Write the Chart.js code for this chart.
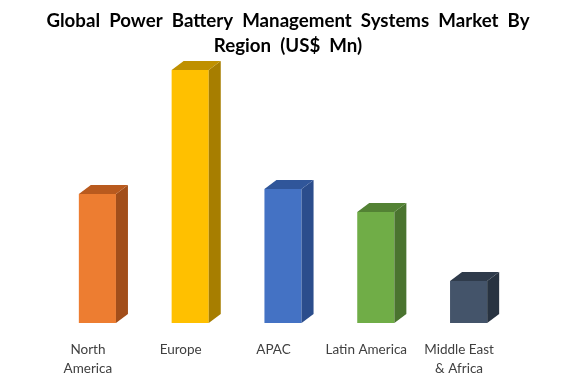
<!DOCTYPE html>
<html>
<head>
<meta charset="utf-8">
<script src="https://cdn.jsdelivr.net/npm/chart.js@4"></script>
<style>
    html, body { margin: 0; padding: 0; background: #ffffff; }
    #wrap { width: 576px; height: 384px; }
</style>
</head>
<body>
<div id="wrap"><canvas id="batteryChart"></canvas></div>
<script>
var regions = [['North', 'America'], 'Europe', 'APAC', 'Latin America', ['Middle East', '& Africa']];
var marketValues = [129, 253, 134, 111, 42];

var frontColors = ['#ED7D31', '#FFC000', '#4472C4', '#70AD47', '#44546A'];
var topColors = ['#B95A1E', '#BF9000', '#30569A', '#538234', '#2F3B4B'];
var sideColors = ['#A24E1A', '#A77E00', '#2B4D8C', '#4A742F', '#283341'];

// draws the side and top faces so the bars look 3D
var threeD = {
    id: 'threeD',
    afterDatasetsDraw: function(chart) {
        var ctx = chart.ctx;
        var meta = chart.getDatasetMeta(0);
        var dx = 12;
        var dy = 9;
        ctx.save();
        for (var i = 0; i < meta.data.length; i++) {
            var bar = meta.data[i];
            var left = bar.x - bar.width / 2;
            var right = bar.x + bar.width / 2;

            ctx.fillStyle = sideColors[i];
            ctx.beginPath();
            ctx.moveTo(right, bar.y);
            ctx.lineTo(right + dx, bar.y - dy);
            ctx.lineTo(right + dx, bar.base - dy);
            ctx.lineTo(right, bar.base);
            ctx.closePath();
            ctx.fill();

            ctx.fillStyle = topColors[i];
            ctx.beginPath();
            ctx.moveTo(left, bar.y);
            ctx.lineTo(left + dx, bar.y - dy);
            ctx.lineTo(right + dx, bar.y - dy);
            ctx.lineTo(right, bar.y);
            ctx.closePath();
            ctx.fill();
        }
        ctx.restore();
    }
};

// hidden side axes, only used to hold the plot area in place
function hiddenAxis(position, width) {
    return {
        position: position,
        display: true,
        min: 0,
        max: 263,
        grid: { display: false, drawTicks: false },
        border: { display: false },
        ticks: { display: false },
        afterFit: function(axis) {
            axis.width = width;
        }
    };
}

var ctx = document.getElementById('batteryChart').getContext('2d');
var batteryChart = new Chart(ctx, {
    type: 'bar',
    data: {
        labels: regions,
        datasets: [{
            label: 'US$ Mn',
            data: marketValues,
            backgroundColor: frontColors,
            borderWidth: 0,
            barPercentage: 0.4,
            categoryPercentage: 1
        }]
    },
    options: {
        responsive: true,
        maintainAspectRatio: false,
        animation: false,
        layout: {
            padding: { left: 0, right: 0, top: 0, bottom: 7 }
        },
        scales: {
            x: {
                grid: { display: false, drawTicks: false },
                border: { display: false },
                afterFit: function(axis) {
                    axis.height = 54;
                },
                ticks: {
                    color: '#404040',
                    padding: 18,
                    labelOffset: -9.5,
                    maxRotation: 0,
                    autoSkip: false,
                    font: { family: 'Lato', size: 13.5, lineHeight: 1.35 }
                }
            },
            y: hiddenAxis('left', 51),
            yRight: hiddenAxis('right', 61)
        },
        plugins: {
            legend: { display: false },
            tooltip: { enabled: false },
            title: {
                display: true,
                text: ['Global  Power  Battery  Management  Systems  Market  By', 'Region  (US$  Mn)'],
                color: '#000000',
                font: { family: 'Lato', size: 18.7, weight: 'bold', lineHeight: 1.34 },
                padding: { top: 8, bottom: 2 }
            }
        }
    },
    plugins: [threeD]
});
</script>
</body>
</html>
